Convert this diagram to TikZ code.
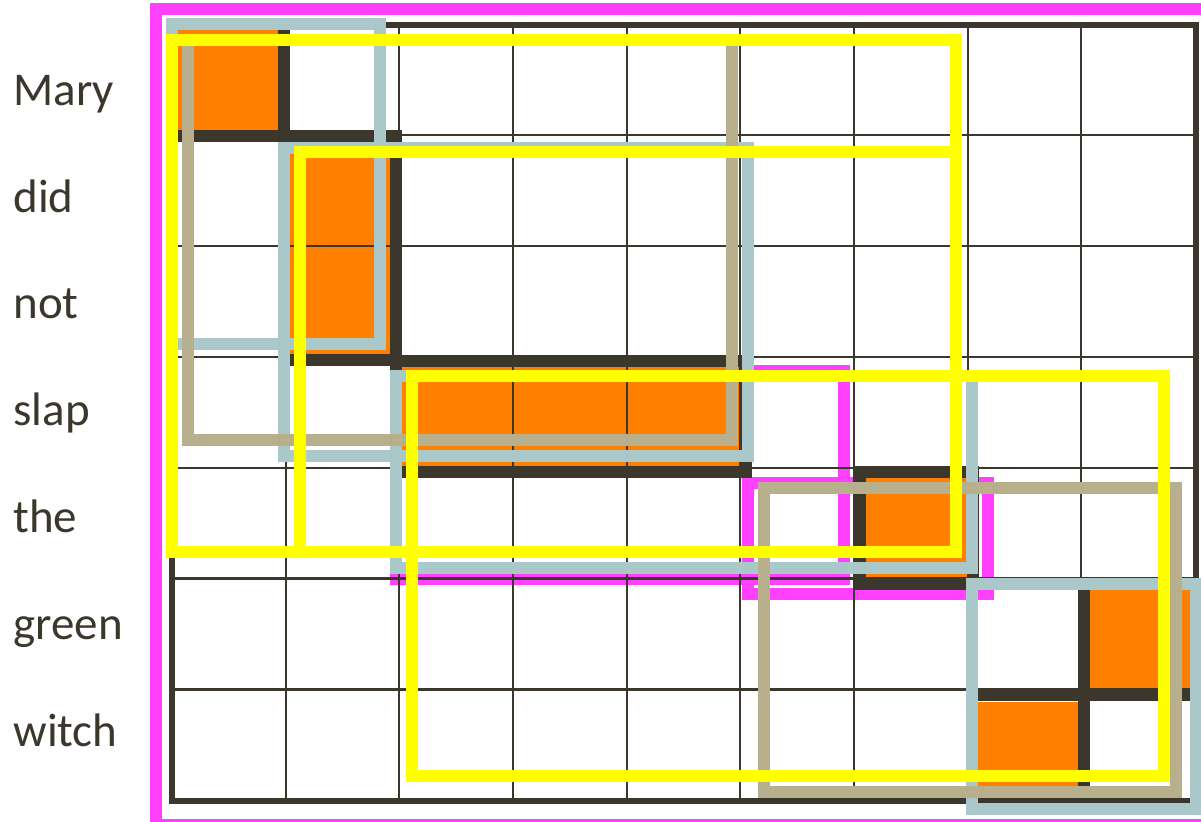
\documentclass[tikz,border=0pt]{standalone}
\usepackage{fontspec}
\setmainfont{Carlito}
\definecolor{dk}{RGB}{59,55,44}
\definecolor{mag}{RGB}{255,64,255}
\definecolor{bgray}{RGB}{170,200,201}
\definecolor{tan}{RGB}{184,176,140}
\definecolor{yel}{RGB}{255,255,0}
\definecolor{org}{RGB}{255,127,0}
\tikzset{
  pbox/.style={line width=6pt},
  magbox/.style={pbox,draw=mag},
  bluebox/.style={pbox,draw=bgray},
  tanbox/.style={pbox,draw=tan},
  yelbox/.style={pbox,draw=yel},
  blockline/.style={line width=6.25pt,draw=dk},
  gridline/.style={line width=1.1pt,draw=dk},
  orangecell/.style={fill=org},
  word/.style={anchor=base west,inner sep=0pt,text=dk,font=\fontsize{23.5pt}{28pt}\selectfont}
}
\begin{document}
\begin{tikzpicture}[x=0.5pt,y=-0.5pt]
\useasboundingbox (0,0) rectangle (1201,821);
\clip (0,0) rectangle (1201,821);
% outer magenta frame
\draw[magbox] (156,8.5) rectangle (1215,825);
% lower magenta boxes
\draw[magbox] (396,371) rectangle (844,579);
\draw[magbox] (748,483) rectangle (988,594);
% orange alignment cells
\fill[orangecell] (178,30) rectangle (279,130);
\fill[orangecell] (290,142) rectangle (390,354);
\fill[orangecell] (402,367) rectangle (740,466);
\fill[orangecell] (866,478) rectangle (967,577);
\fill[orangecell] (1090,590) rectangle (1190,689);
\fill[orangecell] (978,702) rectangle (1078,798);
% thin grid lines
\foreach \i in {1,...,8} {
  \draw[gridline] ({172+113.67*\i},24) -- ({172+113.67*\i},800);
}
\foreach \j in {1,...,6} {
  \draw[gridline] (172,{24+110.9*\j}) -- (1195,{24+110.9*\j});
}
% grid frame
\draw[line width=3pt,draw=dk] (172,24.5) rectangle (1195.5,801);
% thick block borders
\draw[blockline] (172,24) rectangle (284,136);
\draw[blockline] (284,136) rectangle (396,360);
\draw[blockline] (396,361) rectangle (746,472);
\draw[blockline] (859.5,472) rectangle (973,583.5);
\draw[blockline] (1084,584) rectangle (1196,695);
\draw[blockline] (972,695) rectangle (1084,804);
% blue-gray phrase boxes
\draw[bluebox] (172,24) rectangle (380,344);
\draw[bluebox] (284,148) rectangle (748,456);
\draw[bluebox] (396,376) rectangle (972,568);
\draw[bluebox] (972,584) rectangle (1196,809);
% tan phrase boxes
\draw[tanbox] (188,40) rectangle (732,440);
\draw[tanbox] (764,488) rectangle (1176,792);
% yellow phrase boxes
\draw[yelbox] (172,40) rectangle (956,552);
\draw[yelbox] (300,152) rectangle (956,552);
\draw[yelbox] (412,376) rectangle (1164,776);
% words
\node[word] (w1) at (13,105) {Mary};
\node[word] (w2) at (13,212) {did};
\node[word] (w3) at (13,318) {not};
\node[word] (w4) at (13,425) {slap};
\node[word] (w5) at (13,532) {the};
\node[word] (w6) at (13,639) {green};
\node[word] (w7) at (13,746) {witch};
\end{tikzpicture}
\end{document}
